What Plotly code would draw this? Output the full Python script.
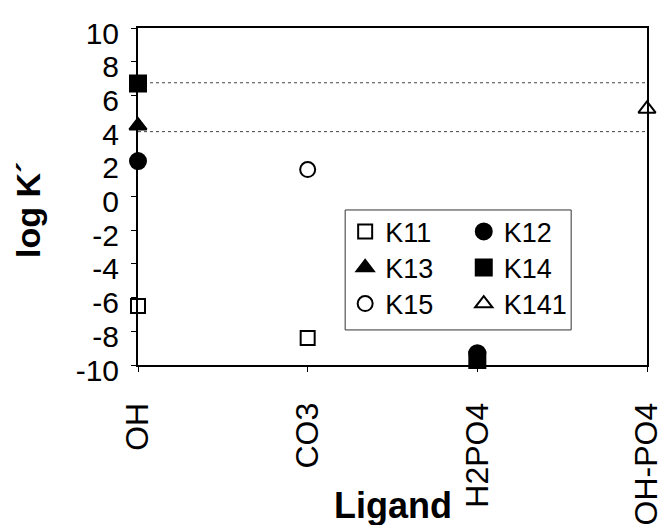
import plotly.graph_objects as go

categories = ["OH", "CO3", "H2PO4", "OH-PO4"]
K11 = [-6.5, -8.4, None, None]
K12 = [2.1, None, -9.3, None]
K13 = [4.2, None, None, None]
K14 = [6.7, None, -9.7, None]
K15 = [None, 1.6, None, None]
K141 = [None, None, None, 5.2]
ref_levels = [6.75, 3.85]
y_ticks = [-10, -8, -6, -4, -2, 0, 2, 4, 6, 8, 10]
y_tick_labels = ["-10", "-8", "-6", "-4", "-2", "0", "2", "4", "6", "8", "10"]

FONT = "Liberation Sans, Arial, sans-serif"
fig = go.Figure()

# (name, values, symbol, size, legend id, legend x, legend y)
series = [
    ("K11", K11, "square-open", 14, "legend", 0.407, 0.395),
    ("K12", K12, "circle", 16, "legend4", 0.640, 0.395),
    ("K13", K13, "triangle-up", 15, "legend2", 0.407, 0.288),
    ("K14", K14, "square", 16, "legend5", 0.640, 0.288),
    ("K15", K15, "circle-open", 15, "legend3", 0.407, 0.181),
    ("K141", K141, "triangle-up-open", 15, "legend6", 0.640, 0.181),
]

for lv in ref_levels:
    fig.add_trace(go.Scatter(
        x=[categories[0], categories[-1]], y=[lv, lv], mode="lines",
        line=dict(color="#444", width=1, dash="dot"), showlegend=False,
        hoverinfo="skip", cliponaxis=False))

legends = {}
for name, vals, sym, size, lg, lx, ly in series:
    fig.add_trace(go.Scatter(
        x=categories, y=vals, mode="markers", name=name, legend=lg,
        cliponaxis=False,
        marker=dict(symbol=sym, size=size, color="black",
                    line=dict(color="black", width=2))))
    legends[lg] = dict(x=lx, y=ly, xanchor="left", yanchor="middle",
                       bgcolor="rgba(0,0,0,0)", font=dict(size=27),
                       itemwidth=30, tracegroupgap=0)

fig.update_layout(
    width=665, height=525,
    margin=dict(l=138, r=18, t=28, b=160, autoexpand=False),
    paper_bgcolor="white", plot_bgcolor="white",
    font=dict(family=FONT, size=31, color="black"),
    showlegend=True,
    shapes=[dict(type="rect", xref="paper", yref="paper",
                 x0=0.407, x1=0.851, y0=0.104, y1=0.460,
                 line=dict(color="#333", width=1), fillcolor="rgba(0,0,0,0)")],
    annotations=[
        dict(text="<b>log K´</b>", xref="paper", yref="paper",
             x=-0.216, y=0.46, xanchor="center", yanchor="middle",
             textangle=-90, showarrow=False, font=dict(size=34)),
        dict(text="<b>Ligand</b>", xref="paper", yref="paper",
             x=0.501, y=-0.484, xanchor="center", yanchor="bottom",
             showarrow=False, font=dict(size=36)),
    ],
    **legends,
)

fig.update_xaxes(
    type="category", categoryorder="array", categoryarray=categories,
    range=[0, 3], showgrid=False, zeroline=False, automargin=False,
    showline=True, linecolor="black", linewidth=2, mirror=True,
    ticks="outside", ticklen=5, tickcolor="black", tickwidth=1,
    tickangle=-90, tickfont=dict(size=32), ticklabelstandoff=18,
)
fig.update_yaxes(
    range=[-10, 10], tickvals=y_ticks, ticktext=y_tick_labels,
    showgrid=False, zeroline=False, automargin=False,
    showline=True, linecolor="black", linewidth=2, mirror=True,
    ticks="outside", ticklen=5, tickcolor="black", tickwidth=1,
    tickfont=dict(size=30), ticklabelstandoff=6, ticklabelshift=5,
)

fig.write_html("out.html")
